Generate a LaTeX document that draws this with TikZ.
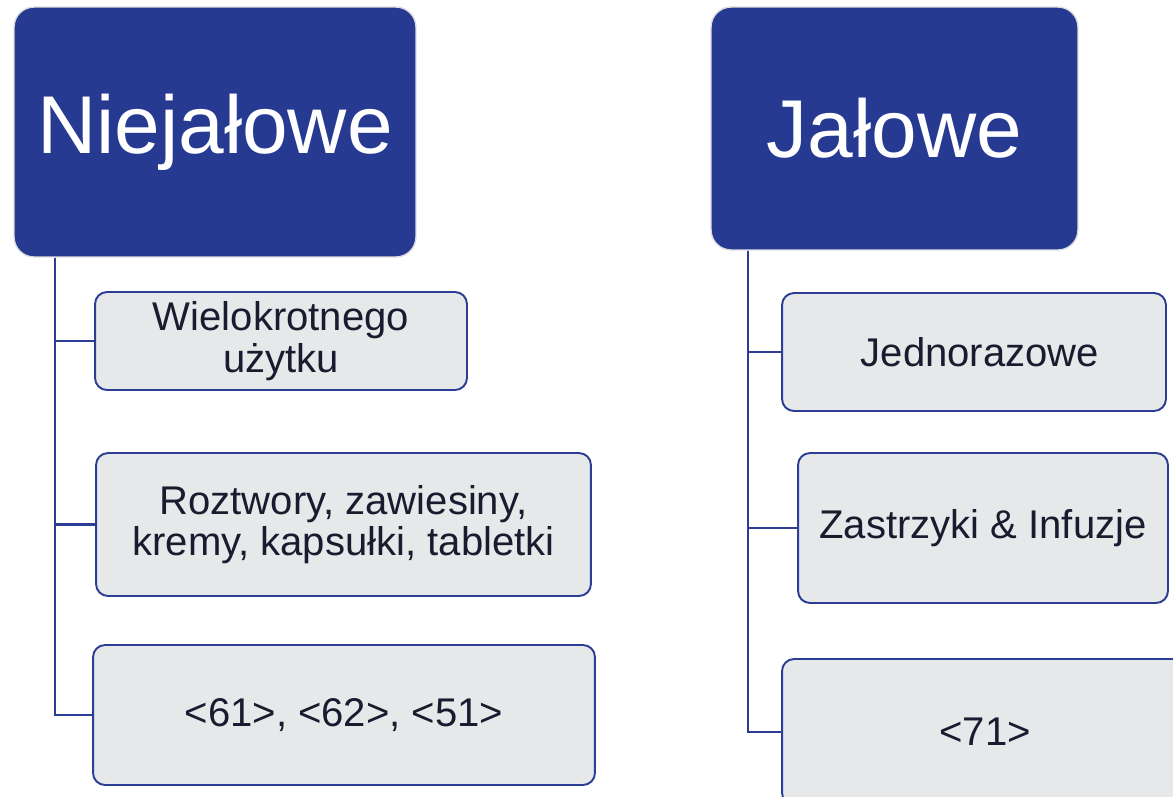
\documentclass[tikz,border=0pt]{standalone}
\usepackage{fontspec}
\setmainfont{Liberation Sans}
\usepackage{tikz}
\usetikzlibrary{positioning}
\definecolor{headblue}{HTML}{263A92}
\definecolor{boxblue}{HTML}{2B3D94}
\definecolor{boxgray}{HTML}{E7E8EA}
\definecolor{txtdark}{HTML}{1B1B2F}
\definecolor{rimgray}{HTML}{DDDDDD}

\begin{document}
\begin{tikzpicture}[x=0.02cm, y=-0.02cm,
    head/.style = {draw=rimgray, line width=0.8pt, fill=headblue, rounded corners=0.4cm,
      text=white, font=\fontsize{46.7}{52}\selectfont, inner sep=0pt},
    leaf/.style = {draw=boxblue, line width=1.1pt, fill=boxgray, rounded corners=0.24cm,
      text=txtdark, font=\fontsize{22.8}{23.5}\selectfont, align=center, inner sep=0pt},
    branch/.style = {draw=boxblue, line width=1.5pt}]
    \useasboundingbox (0,0) rectangle (1173,796);

    \node[head, minimum width=8.04cm, minimum height=5cm] (niejalowe) at (215,132) {Niejałowe};
    \node[head, minimum width=7.34cm, minimum height=4.86cm] (jalowe) at (894.5,128.5) {Jałowe};

    \node[leaf, minimum width=7.44cm, minimum height=1.96cm] (wielo) at (281,341) {Wielokrotnego\\użytku};
    \node[leaf, minimum width=9.9cm, minimum height=2.86cm] (roztwory) at (343.5,524.5) {Roztwory, zawiesiny,\\kremy, kapsułki, tabletki};
    \node[leaf, minimum width=10.04cm, minimum height=2.8cm] (kody0) at (344,715) {<61>, <62>, <51>};

    \node[leaf, minimum width=7.68cm, minimum height=2.36cm] (jednoraz) at (974,352) {\hspace{0.24cm}Jednorazowe};
    \node[leaf, minimum width=7.4cm, minimum height=3cm] (zastrzyki) at (983,528) {Zastrzyki \& Infuzje};
    \node[leaf, minimum width=8.12cm, minimum height=2.92cm] (kody1) at (985,732) {<71>};

    \coordinate (t0) at (niejalowe.south -| 55,0);
    \coordinate (t1) at (jalowe.south -| 748,0);

    \draw[branch] (t0) |- (kody0.west);
    \draw[branch] (t0) |- (roztwory.west);
    \draw[branch] (t0) |- (wielo.west);
    \draw[branch] (t1) |- (kody1.west);
    \draw[branch] (t1) |- (zastrzyki.west);
    \draw[branch] (t1) |- (jednoraz.west);
  \end{tikzpicture}
\end{document}
